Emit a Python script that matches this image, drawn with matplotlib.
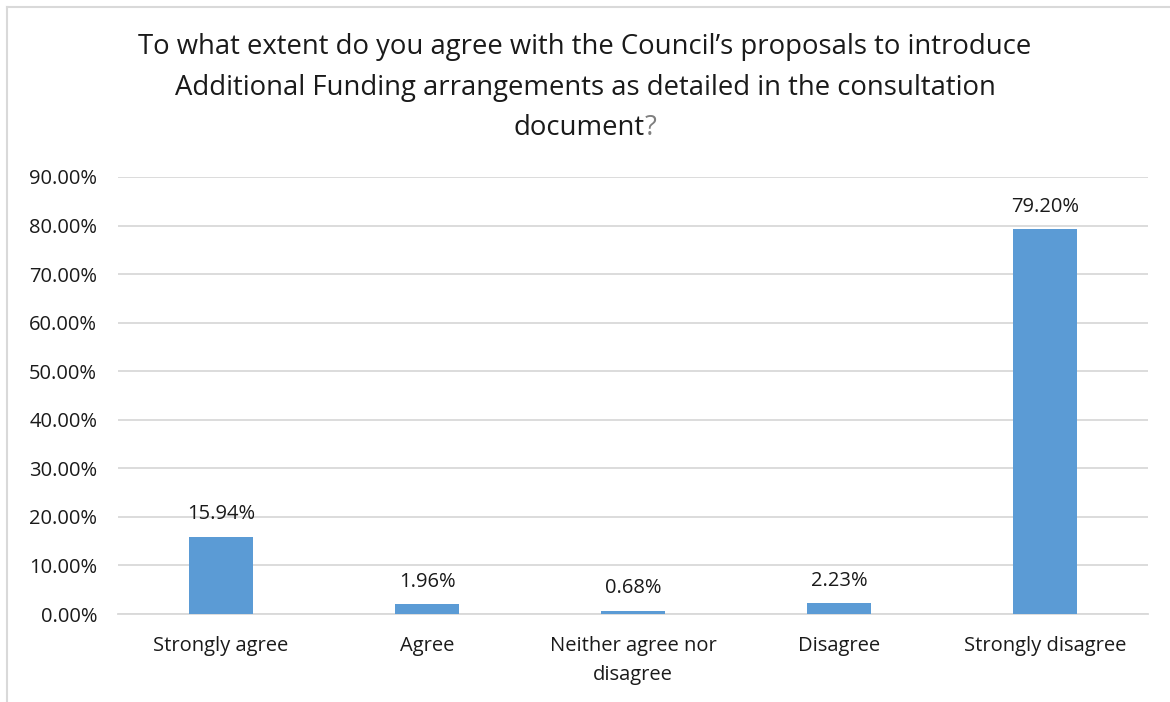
import matplotlib
matplotlib.use("Agg")
import matplotlib.pyplot as plt
from matplotlib.lines import Line2D
from matplotlib.ticker import MultipleLocator, FuncFormatter

categories = ["Strongly agree", "Agree", "Neither agree nor\ndisagree", "Disagree", "Strongly disagree"]
values = [15.94, 1.96, 0.68, 2.23, 79.20]

title_lines = [
    "To what extent do you agree with the Council\u2019s proposals to introduce",
    "Additional Funding arrangements as detailed in the consultation",
]
title_last = "document"
title_mark = "?"

BAR = "#5B9BD5"
GRID = "#D9D9D9"
TEXT = "#1a1a1a"

plt.rcParams["font.family"] = ["Open Sans", "DejaVu Sans"]

fig = plt.figure(figsize=(11.7, 7.02), dpi=100)
W, H = 1170, 702

# plot area in pixels
left, right, bottom, top = 118, 1148, 702 - 614, 702 - 177
ax = fig.add_axes([left / W, bottom / H, (right - left) / W, (top - bottom) / H])

x = range(len(categories))
bars = ax.bar(x, values, width=0.31, color=BAR, zorder=3)
ax.set_xlim(-0.5, len(categories) - 0.5)
ax.set_ylim(0, 90)
ax.yaxis.set_major_locator(MultipleLocator(10))
ax.yaxis.set_major_formatter(FuncFormatter(lambda v, p: f"{v:.2f}%"))
ax.grid(axis="y", color=GRID, linewidth=1.3, zorder=0)
for s in ["top", "right", "left"]:
    ax.spines[s].set_visible(False)
ax.spines["bottom"].set_color(GRID)
ax.spines["bottom"].set_linewidth(1.3)
ax.tick_params(axis="both", length=0, labelsize=14.5, colors=TEXT)
ax.tick_params(axis="y", pad=15)
ax.tick_params(axis="x", pad=16)
ax.set_xticks(list(x))
ax.set_xticklabels(categories, linespacing=1.56)

for b, v in zip(bars, values):
    ax.annotate(f"{v:.2f}%", (b.get_x() + b.get_width() / 2, v),
                xytext=(0, 9), textcoords="offset points",
                ha="center", va="bottom", fontsize=14.5, color=TEXT)

# title
title_size = 19.8
fig.text(0.5, 1 - 47 / H, title_lines[0], ha="center", va="center", fontsize=title_size, color=TEXT)
fig.text(0.5, 1 - 88 / H, title_lines[1], ha="center", va="center", fontsize=title_size, color=TEXT)
fig.canvas.draw()
renderer = fig.canvas.get_renderer()
t1 = fig.text(0, 0, title_last, fontsize=title_size, color=TEXT)
t2 = fig.text(0, 0, title_mark, fontsize=title_size, color="#7f7f7f")
w1 = t1.get_window_extent(renderer).width
w2 = t2.get_window_extent(renderer).width
x0 = (W - (w1 + w2)) / 2
y3 = 1 - 128 / H
t1.set_position((x0 / W, y3)); t1.set_va("center")
t2.set_position(((x0 + w1) / W, y3)); t2.set_va("center")

# chart border (top and left edges)
fig.add_artist(Line2D([7 / W, 7 / W], [0, 1 - 7 / H], transform=fig.transFigure, color=GRID, linewidth=1.5))
fig.add_artist(Line2D([7 / W, 1], [1 - 7 / H, 1 - 7 / H], transform=fig.transFigure, color=GRID, linewidth=1.5))

fig.savefig("out.png", dpi=100, facecolor="white")
